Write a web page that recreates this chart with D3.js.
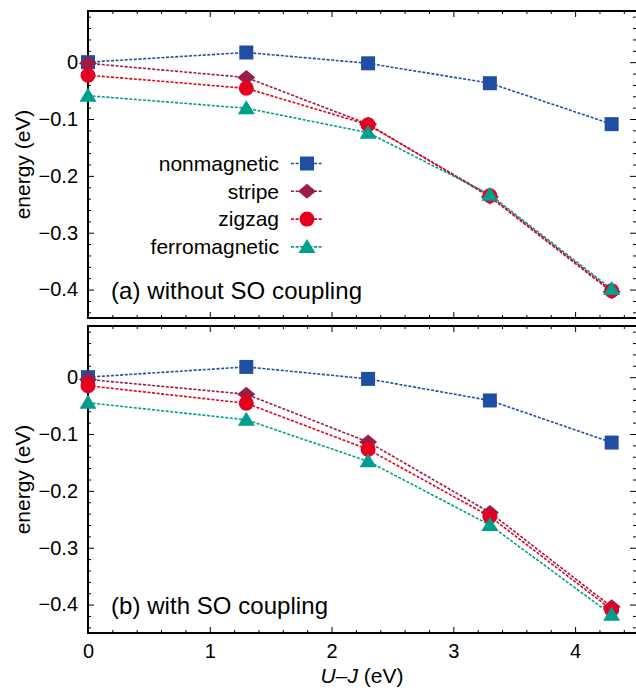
<!DOCTYPE html>
<html>
<head>
<meta charset="utf-8">
<script src="https://cdn.jsdelivr.net/npm/d3@7"></script>
<style>
  body { margin: 0; background: #fff; }
  svg { display: block; font-family: "Liberation Sans", Arial, Helvetica, sans-serif; }
</style>
</head>
<body>
<svg id="chart" width="636" height="688"></svg>
<script>
// ---- data ----
const uj = [0, 1.3, 2.3, 3.3, 4.3];
const seriesNames = ["nonmagnetic", "stripe", "zigzag", "ferromagnetic"];
const seriesColors = ["#1f4ea3", "#9b1d45", "#e6001f", "#009e8c"];
const seriesShapes = ["square", "diamond", "circle", "triangle"];

// (a) without SO coupling
const noSO_nonmagnetic   = [0.000, 0.017, -0.002, -0.037, -0.109];
const noSO_stripe        = [-0.002, -0.027, -0.109, -0.237, -0.404];
const noSO_zigzag        = [-0.023, -0.046, -0.110, -0.235, -0.402];
const noSO_ferromagnetic = [-0.059, -0.081, -0.124, -0.233, -0.399];

// (b) with SO coupling
const SO_nonmagnetic   = [0.000, 0.018, -0.003, -0.041, -0.115];
const SO_stripe        = [-0.004, -0.030, -0.114, -0.238, -0.404];
const SO_zigzag        = [-0.015, -0.046, -0.127, -0.245, -0.409];
const SO_ferromagnetic = [-0.045, -0.075, -0.148, -0.260, -0.418];

const yTickValues = [0, -0.1, -0.2, -0.3, -0.4];
const xTickValues = [0, 1, 2, 3, 4];
const panelLabels = ["(a) without SO coupling", "(b) with SO coupling"];

const panels = [
  { label: panelLabels[0], labelWidth: 251, data: [noSO_nonmagnetic, noSO_stripe, noSO_zigzag, noSO_ferromagnetic], top: 11, bottom: 318, legend: true, xlabels: false },
  { label: panelLabels[1], labelWidth: 217, data: [SO_nonmagnetic, SO_stripe, SO_zigzag, SO_ferromagnetic], top: 326, bottom: 633, legend: false, xlabels: true }
];

// ---- layout ----
const svg = d3.select("#chart");
const left = 88, right = 636;
const x = d3.scaleLinear().domain([0, 4.5]).range([left, right]);

function markerPath(shape) {
  switch (shape) {
    case "square": return "M-7,-7H7V7H-7Z";
    case "diamond": return "M-9,0L0,-7.5L9,0L0,7.5Z";
    case "circle": return "M-7.5,0A7.5,7.5 0 1,0 7.5,0A7.5,7.5 0 1,0 -7.5,0Z";
    case "triangle": return "M-8.5,6L0,-8L8.5,6Z";
  }
}

const fmt = v => v === 0 ? "0" : ("\u2212" + d3.format(".1f")(Math.abs(v)));

panels.forEach((p, pi) => {
  const y = d3.scaleLinear().domain([-0.45, 0.09]).range([p.bottom, p.top]);
  const g = svg.append("g");

  const minorX = d3.range(0, 4.5001, 0.2).filter(v => Math.abs(v - Math.round(v)) > 1e-6);
  const minorY = d3.range(-0.44, 0.0801, 0.02).filter(v => Math.abs(v * 10 - Math.round(v * 10)) > 1e-6);

  function axisStyle(sel) {
    sel.select(".domain").remove();
    sel.selectAll(".tick line").attr("stroke", "#000").attr("stroke-width", 1);
  }
  // bottom
  g.append("g").attr("transform", `translate(0,${p.bottom})`)
    .call(d3.axisBottom(x).tickValues(xTickValues).tickSize(-6).tickFormat(p.xlabels ? d3.format("d") : ""))
    .call(axisStyle)
    .call(s => s.selectAll("text").attr("font-size", 20).attr("font-family", "Liberation Sans, Arial, sans-serif").attr("fill", "#000").attr("y", 11).attr("dy", "0.71em"));
  g.append("g").attr("transform", `translate(0,${p.bottom})`)
    .call(d3.axisBottom(x).tickValues(minorX).tickSize(-3).tickFormat(""))
    .call(axisStyle);
  // top
  g.append("g").attr("transform", `translate(0,${p.top})`)
    .call(d3.axisTop(x).tickValues(xTickValues).tickSize(-6).tickFormat(""))
    .call(axisStyle);
  g.append("g").attr("transform", `translate(0,${p.top})`)
    .call(d3.axisTop(x).tickValues(minorX).tickSize(-3).tickFormat(""))
    .call(axisStyle);
  // left
  g.append("g").attr("transform", `translate(${left},0)`)
    .call(d3.axisLeft(y).tickValues(yTickValues).tickSize(-6).tickFormat(fmt))
    .call(axisStyle)
    .call(s => s.selectAll("text").attr("font-size", 20).attr("font-family", "Liberation Sans, Arial, sans-serif").attr("fill", "#000").attr("x", -10));
  g.append("g").attr("transform", `translate(${left},0)`)
    .call(d3.axisLeft(y).tickValues(minorY).tickSize(-3).tickFormat(""))
    .call(axisStyle);
  // right
  g.append("g").attr("transform", `translate(${right},0)`)
    .call(d3.axisRight(y).tickValues(yTickValues).tickSize(-6).tickFormat(""))
    .call(axisStyle);
  g.append("g").attr("transform", `translate(${right},0)`)
    .call(d3.axisRight(y).tickValues(minorY).tickSize(-3).tickFormat(""))
    .call(axisStyle);

  // frame (right side falls just outside the picture)
  g.append("rect").attr("x", left).attr("y", p.top).attr("width", right - left + 3).attr("height", p.bottom - p.top)
    .attr("fill", "none").attr("stroke", "#000").attr("stroke-width", 2);

  // y title
  g.append("text")
    .attr("transform", `translate(23,${(p.top + p.bottom) / 2}) rotate(-90)`)
    .attr("text-anchor", "middle").attr("dy", "0.35em")
    .attr("font-size", 21).text("energy (eV)");

  // panel label
  g.append("text").attr("x", 111).attr("y", p.bottom - 19.5)
    .attr("font-size", 24).attr("textLength", p.labelWidth).attr("lengthAdjust", "spacing")
    .text(p.label);

  // series
  const line = d3.line().x((d, i) => x(uj[i])).y(d => y(d));
  p.data.forEach((vals, si) => {
    g.append("path").datum(vals).attr("d", line)
      .attr("fill", "none").attr("stroke", seriesColors[si]).attr("stroke-width", 1.6)
      .attr("stroke-dasharray", "3,1.6");
  });
  p.data.forEach((vals, si) => {
    g.selectAll(null).data(vals).enter().append("path")
      .attr("transform", (d, i) => `translate(${x(uj[i])},${y(d)})`)
      .attr("d", markerPath(seriesShapes[si]))
      .attr("fill", seriesColors[si]);
  });

  // legend
  if (p.legend) {
    const ly0 = 163.5, ldy = 27.8;
    seriesNames.forEach((name, si) => {
      const yy = ly0 + si * ldy;
      g.append("text").attr("x", 279).attr("y", yy).attr("dy", "0.35em")
        .attr("text-anchor", "end").attr("font-size", 21).text(name);
      g.append("line").attr("x1", 291).attr("x2", 323).attr("y1", yy).attr("y2", yy)
        .attr("stroke", seriesColors[si]).attr("stroke-width", 1.6).attr("stroke-dasharray", "3,1.6");
      g.append("path").attr("transform", `translate(307,${yy})`).attr("d", markerPath(seriesShapes[si]))
        .attr("fill", seriesColors[si]);
    });
  }
});

// x title
const xt = svg.append("text").attr("x", 362).attr("y", 683)
  .attr("text-anchor", "middle").attr("font-size", 21);
xt.append("tspan").attr("font-style", "italic").text("U");
xt.append("tspan").text("\u2013");
xt.append("tspan").attr("font-style", "italic").text("J");
xt.append("tspan").text(" (eV)");
</script>
</body>
</html>
